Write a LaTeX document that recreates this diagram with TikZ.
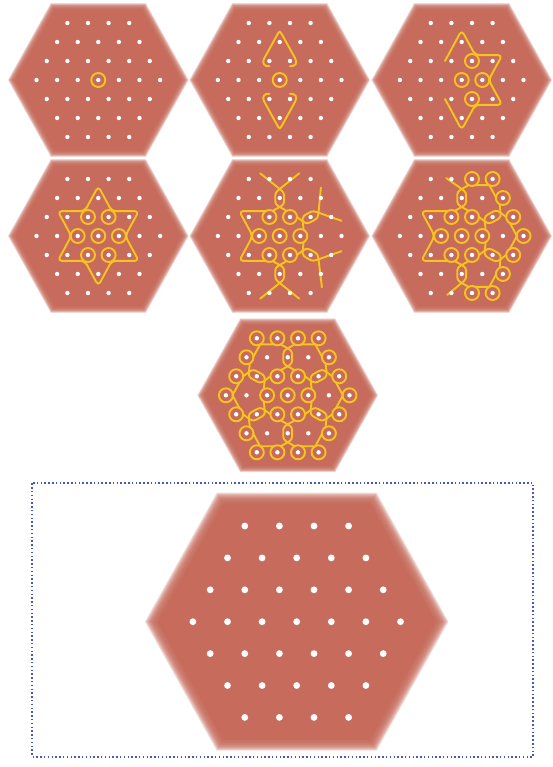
\documentclass[tikz,border=0pt]{standalone}
\usetikzlibrary{calc}
\definecolor{hexfill}{RGB}{199,107,92}
\definecolor{kolamy}{RGB}{246,196,28}
\definecolor{boxblue}{RGB}{70,88,186}
\tikzset{
  kol/.style={draw=kolamy, line width=1.9pt, line cap=round, line join=round},
  ringst/.style={draw=kolamy, line width=1.9pt},
}
\newcommand\hexbg{%
  \foreach \i in {0,...,13}{%
    \pgfmathsetmacro\s{1.07-\i*0.0065}%
    \fill[hexfill,opacity=0.2] (-4.1*\s,0) -- (-2.16*\s,3.78*\s) -- (2.16*\s,3.78*\s) -- (4.1*\s,0) -- (2.16*\s,-3.78*\s) -- (-2.16*\s,-3.78*\s) -- cycle;}%
  \fill[hexfill] (-4.1*0.98,0) -- (-2.16*0.98,3.78*0.98) -- (2.16*0.98,3.78*0.98) -- (4.1*0.98,0) -- (2.16*0.98,-3.78*0.98) -- (-2.16*0.98,-3.78*0.98) -- cycle;
}
\newcommand\hexdots[1]{%
  \foreach \r in {-3,...,3}{%
    \pgfmathtruncatemacro\nn{6-abs(\r)}%
    \foreach \k in {0,...,\nn}{%
      \fill[white] ({-\nn/2+\k},\r) circle[radius=#1];}}}
\newcommand\rings[1]{\foreach \a/\b in {#1}{\draw[ringst] (\a,\b) circle[radius=7pt];}}
\newcommand\kedge[4]{\draw[kol] ($(#1)!0.68!(#2)$) -- ($(#1)!0.68!(#3)$) -- ($(#1)!0.68!(#4)$);}
% corner loop round the far side of a shared dot #1, towards cell centre #2
\newcommand\kdraw[2]{%
  \coordinate (tp) at ($(#1)!4.5pt!(#2)$);
  \coordinate (mp) at ($(#1)!9pt!90:(#2)$);
  \coordinate (mm) at ($(#1)!9pt!-90:(#2)$);
  \draw[kol] (pa) -- (mp) .. controls ($(mp)!-5pt!(pa)$) and ($(tp)!5pt!90:(#2)$) .. (tp)
     .. controls ($(tp)!5pt!-90:(#2)$) and ($(mm)!-5pt!(pb)$) .. (mm) -- (pb);}
\newcommand\kcRR[4]{\coordinate (pa) at ($(#1)!7pt!(#3)$); \coordinate (pb) at ($(#2)!7pt!(#3)$); \kdraw{#3}{#4}}
\newcommand\kcFR[4]{\coordinate (pa) at (#1); \coordinate (pb) at ($(#2)!7pt!(#3)$); \kdraw{#3}{#4}}
\newcommand\kcRF[4]{\coordinate (pa) at ($(#1)!7pt!(#3)$); \coordinate (pb) at (#2); \kdraw{#3}{#4}}
\newcommand\hexleft{\draw[kol, rounded corners=4pt] (-0.655,1.31) -- (-1.965,1.31) -- (-1.31,0) -- (-1.965,-1.31) -- (-0.655,-1.31);}
\begin{document}
\begin{tikzpicture}[x=1pt,y=-1pt]
\useasboundingbox (0,0) rectangle (553,767);
\fill[white] (0,0) rectangle (553,767);

% panel 1
\begin{scope}[shift={(98.3,80)},x={(20.6pt,0pt)},y={(0pt,19pt)}]
  \hexbg
  \rings{0/0}
  \hexdots{2.2pt}
\end{scope}

% panel 2
\begin{scope}[shift={(279.7,80)},x={(20.6pt,0pt)},y={(0pt,19pt)}]
  \hexbg
  \rings{0/0}
  \draw[kol] (-0.5,0.72) .. controls (-0.78,0.7) and (-0.86,0.92) .. (-0.76,1.12) -- (-0.13,2.36) .. controls (0,2.6) .. (0.13,2.36) -- (0.76,1.12) .. controls (0.86,0.92) and (0.78,0.7) .. (0.5,0.72);
  \draw[kol] (-0.5,-0.72) .. controls (-0.78,-0.7) and (-0.86,-0.92) .. (-0.76,-1.12) -- (-0.13,-2.36) .. controls (0,-2.6) .. (0.13,-2.36) -- (0.76,-1.12) .. controls (0.86,-0.92) and (0.78,-0.7) .. (0.5,-0.72);
  \hexdots{2.2pt}
\end{scope}

% panel 3
\begin{scope}[shift={(461.7,80)},x={(20.6pt,0pt)},y={(0pt,19pt)}]
  \hexbg
  \rings{0/0,0.5/1,1/0,0.5/-1}
  \draw[kol, rounded corners=4pt] (-0.81,1.0) -- (0,2.62) -- (0.655,1.31) -- (1.965,1.31) -- (1.31,0) -- (1.965,-1.31) -- (0.655,-1.31) -- (0,-2.62) -- (-0.81,-1.0);
  \hexdots{2.2pt}
\end{scope}

% panel 4
\begin{scope}[shift={(98.3,236)},x={(20.6pt,0pt)},y={(0pt,19pt)}]
  \hexbg
  \rings{0/0,1/0,-1/0,0.5/1,-0.5/1,0.5/-1,-0.5/-1}
  \draw[kol, rounded corners=4pt] (0,2.62) -- (0.655,1.31) -- (1.965,1.31) -- (1.31,0) -- (1.965,-1.31) -- (0.655,-1.31) -- (0,-2.62) -- (-0.655,-1.31) -- (-1.965,-1.31) -- (-1.31,0) -- (-1.965,1.31) -- (-0.655,1.31) -- cycle;
  \hexdots{2.2pt}
\end{scope}

% panel 5
\begin{scope}[shift={(279.7,236)},x={(20.6pt,0pt)},y={(0pt,19pt)}]
  \hexbg
  \rings{0/0,1/0,-1/0,0.5/1,-0.5/1,0.5/-1,-0.5/-1}
  \hexleft
  \kcFR{-0.95,3.3}{-0.5,1}{0,2}{1,2}
  \kcRF{0.5,1}{0.95,3.3}{0,2}{-1,2}
  \kcRF{-0.5,-1}{-0.95,-3.3}{0,-2}{1,-2}
  \kcFR{0.95,-3.3}{0.5,-1}{0,-2}{-1,-2}
  \kcFR{2.0,2.55}{0.5,1}{1.5,1}{2,0}
  \kcRF{1,0}{3.0,0.8}{1.5,1}{1,2}
  \kcFR{3.0,-0.8}{1,0}{1.5,-1}{1,-2}
  \kcRF{0.5,-1}{2.05,-2.7}{1.5,-1}{2,0}
  \hexdots{2.2pt}
\end{scope}

% panel 6
\begin{scope}[shift={(461.7,236)},x={(20.6pt,0pt)},y={(0pt,19pt)}]
  \hexbg
  \rings{0/0,-1/0,-0.5/1,-0.5/-1,1/0,0.5/1,0.5/-1,0.5/3,1.5/3,2/2,2.5/1,3/0,2.5/-1,2/-2,1.5/-3,0.5/-3}
  \hexleft
  \kedge{1,2}{0.5,3}{1.5,3}{2,2}
  \kedge{2,0}{2.5,1}{3,0}{2.5,-1}
  \kedge{1,-2}{2,-2}{1.5,-3}{0.5,-3}
  \kcFR{-0.75,3.05}{-0.5,1}{0,2}{1,2}
  \kcRR{0.5,1}{0.5,3}{0,2}{-1,2}
  \kcRR{2,2}{0.5,1}{1.5,1}{2,0}
  \kcRR{1,0}{2.5,1}{1.5,1}{1,2}
  \kcRR{2.5,-1}{1,0}{1.5,-1}{1,-2}
  \kcRR{0.5,-1}{2,-2}{1.5,-1}{2,0}
  \kcRR{0.5,-3}{0.5,-1}{0,-2}{-1,-2}
  \kcRF{-0.5,-1}{-0.7,-3.1}{0,-2}{1,-2}
  \hexdots{2.2pt}
\end{scope}

% panel 7
\begin{scope}[shift={(287.7,395.3)},x={(20.6pt,0pt)},y={(0pt,19pt)}]
  \hexbg
  \rings{0/0,-0.5/3,-1.5/3,-2/2,-0.5/1,0.5/3,1.5/3,2/2,0.5/1,2.5/1,3/0,2.5/-1,1/0,2/-2,0.5/-1,0.5/-3,1.5/-3,-0.5/-1,-2/-2,-1.5/-3,-0.5/-3,-1/0,-2.5/1,-3/0,-2.5/-1}
  \kedge{-1,2}{-0.5,3}{-1.5,3}{-2,2}
  \kedge{1,2}{0.5,3}{1.5,3}{2,2}
  \kedge{2,0}{2.5,1}{3,0}{2.5,-1}
  \kedge{1,-2}{2,-2}{1.5,-3}{0.5,-3}
  \kedge{-1,-2}{-0.5,-3}{-1.5,-3}{-2,-2}
  \kedge{-2,0}{-2.5,-1}{-3,0}{-2.5,1}
  \kcRR{-0.5,3}{-0.5,1}{0,2}{1,2}
  \kcRR{0.5,1}{0.5,3}{0,2}{-1,2}
  \kcRR{2,2}{0.5,1}{1.5,1}{2,0}
  \kcRR{1,0}{2.5,1}{1.5,1}{1,2}
  \kcRR{2.5,-1}{1,0}{1.5,-1}{1,-2}
  \kcRR{0.5,-1}{2,-2}{1.5,-1}{2,0}
  \kcRR{0.5,-3}{0.5,-1}{0,-2}{-1,-2}
  \kcRR{-0.5,-1}{-0.5,-3}{0,-2}{1,-2}
  \kcRR{-2,-2}{-0.5,-1}{-1.5,-1}{-2,0}
  \kcRR{-1,0}{-2.5,-1}{-1.5,-1}{-1,-2}
  \kcRR{-0.5,1}{-2,2}{-1.5,1}{-2,0}
  \kcRR{-2.5,1}{-1,0}{-1.5,1}{-1,2}
  \hexdots{2.2pt}
\end{scope}

% big panel
\begin{scope}[shift={(296.7,621.7)},x={(34.6pt,0pt)},y={(0pt,31.9pt)}]
  \hexbg
  \hexdots{3.4pt}
\end{scope}

\draw[boxblue, line width=1.8pt, dash pattern=on 1.5pt off 2.3pt] (32.3,483.3) rectangle (533.3,756.7);
\end{tikzpicture}
\end{document}
